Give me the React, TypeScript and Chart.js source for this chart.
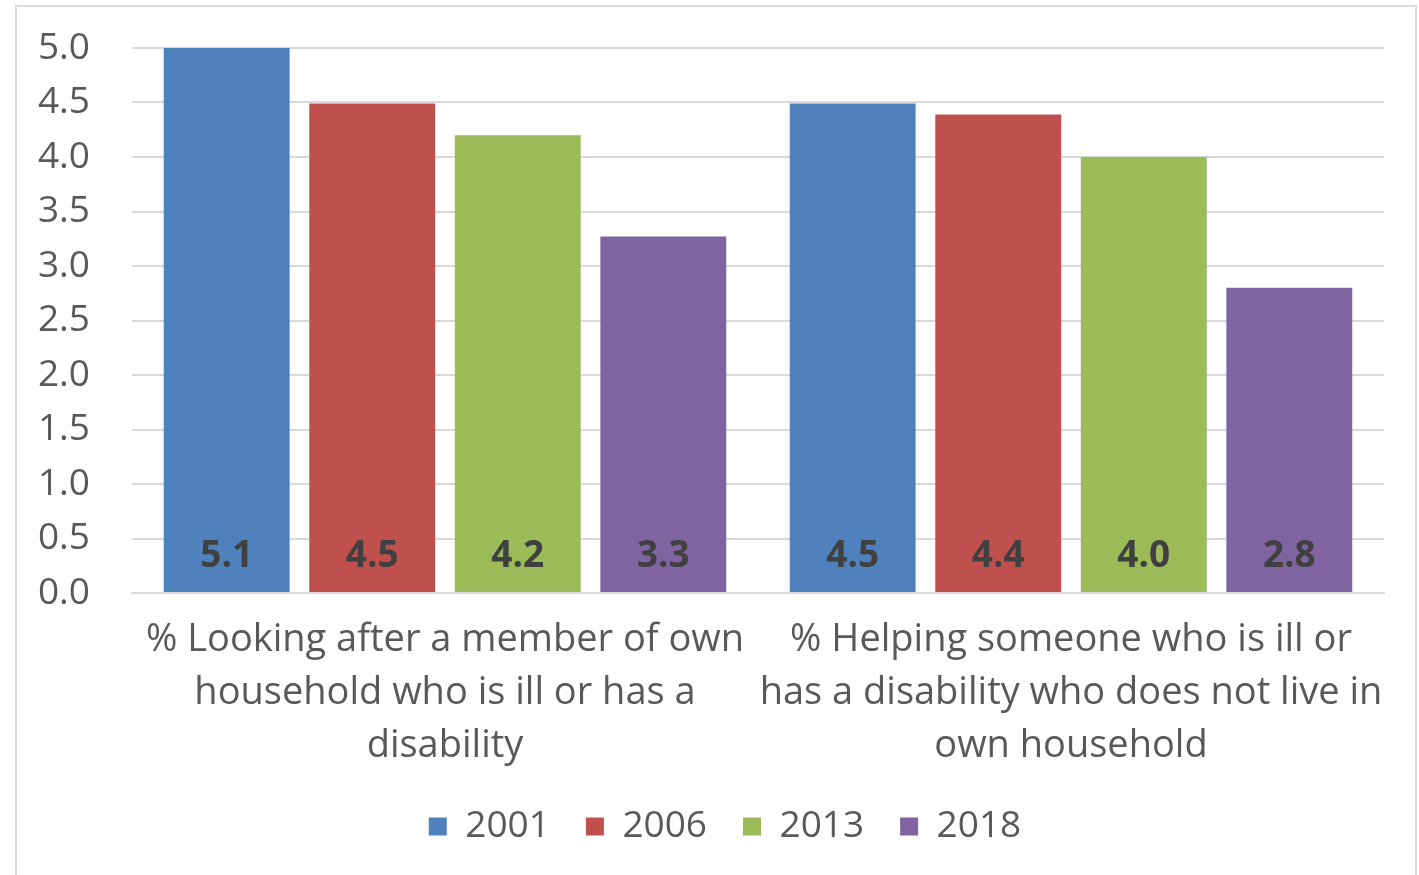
import React, { useEffect, useRef } from "react";
import { Chart, registerables } from "chart.js";

Chart.register(...registerables);

const categories: string[][] = [
  ["% Looking after a member of own", "household who is ill or has a", "disability"],
  ["% Helping someone who is ill or", "has a disability who does not live in", "own household"],
];
const seriesLabels = ["2001", "2006", "2013", "2018"];
const values2001 = [5.1, 4.49];
const values2006 = [4.49, 4.39];
const values2013 = [4.2, 4.0];
const values2018 = [3.27, 2.8];
const colors = ["#4f81bd", "#c0504d", "#9bbb59", "#8064a2"];
const yTicks = [0, 0.5, 1, 1.5, 2, 2.5, 3, 3.5, 4, 4.5, 5];

const FONT = "'Open Sans', Lato, sans-serif";

export default function App() {
  const ref = useRef<HTMLCanvasElement | null>(null);
  useEffect(() => {
    if (!ref.current) return;
    const series = [values2001, values2006, values2013, values2018];
    const borderPlugin = {
      id: "outerBorder",
      beforeDraw(chart: any) {
        const ctx = chart.ctx;
        ctx.save();
        ctx.fillStyle = "#ffffff";
        ctx.fillRect(0, 0, chart.width, chart.height);
        ctx.strokeStyle = "#d9d9d9";
        ctx.lineWidth = 2;
        ctx.strokeRect(16, 6, 1400, 900);
        ctx.restore();
      },
    };
    const legendShift = {
      id: "legendShift",
      afterLayout(chart: any) {
        const lg = chart.legend;
        if (lg) {
          lg.left += 33;
          lg.right += 33;
        }
      },
    };
    const labelPlugin = {
      id: "barLabels",
      afterDatasetsDraw(chart: any) {
        const ctx = chart.ctx;
        const yScale = chart.scales.y;
        ctx.save();
        ctx.font = `bold 37px ${FONT}`;
        ctx.fillStyle = "#404040";
        ctx.textAlign = "center";
        ctx.textBaseline = "middle";
        chart.data.datasets.forEach((ds: any, i: number) => {
          const meta = chart.getDatasetMeta(i);
          meta.data.forEach((bar: any, j: number) => {
            const v = ds.data[j] as number;
            ctx.fillText(v.toFixed(1), bar.x, yScale.getPixelForValue(0) - 37);
          });
        });
        ctx.restore();
      },
    };
    const chart = new Chart(ref.current, {
      type: "bar",
      data: {
        labels: categories,
        datasets: series.map((d, i) => ({
          label: seriesLabels[i],
          data: d,
          backgroundColor: colors[i],
          borderWidth: 0,
          barPercentage: 0.865,
          categoryPercentage: 0.93,
        })),
      },
      options: {
        animation: false,
        responsive: false,
        devicePixelRatio: 1,
        layout: { padding: { left: 0, right: 35, top: 48, bottom: 20 } },
        plugins: {
          legend: {
            position: "bottom",
            labels: {
              boxWidth: 18,
              boxHeight: 18,
              padding: 36,
              color: "#595959",
              font: { family: FONT, size: 37 },
            },
          },
          tooltip: { enabled: false },
        },
        scales: {
          x: {
            afterFit(scale: any) {
              scale.height = 179;
            },
            grid: { display: false },
            border: { display: true, color: "#d9d9d9", width: 2 },
            ticks: {
              color: "#595959",
              font: { family: FONT, size: 38, lineHeight: 53 / 38 },
              padding: 13,
              maxRotation: 0,
              autoSkip: false,
            },
          },
          y: {
            min: 0,
            max: 5,
            afterFit(scale: any) {
              scale.width = 132;
            },
            afterBuildTicks(scale: any) {
              scale.ticks = yTicks.map((v) => ({ value: v }));
            },
            grid: {
              color: "#d9d9d9",
              lineWidth: 2,
              drawTicks: true,
              tickLength: 42,
              tickColor: "rgba(0,0,0,0)",
            },
            border: { display: false },
            ticks: {
              color: "#595959",
              font: { family: FONT, size: 37 },
              padding: 0,
              callback: (v: any) => Number(v).toFixed(1),
            },
          },
        },
      },
      plugins: [borderPlugin, legendShift, labelPlugin],
    });
    return () => chart.destroy();
  }, []);
  return (
    <div style={{ position: "absolute", left: 0, top: 0, width: 1419, height: 875, overflow: "hidden" }}>
      <canvas ref={ref} width={1419} height={875} style={{ display: "block" }} />
    </div>
  );
}
